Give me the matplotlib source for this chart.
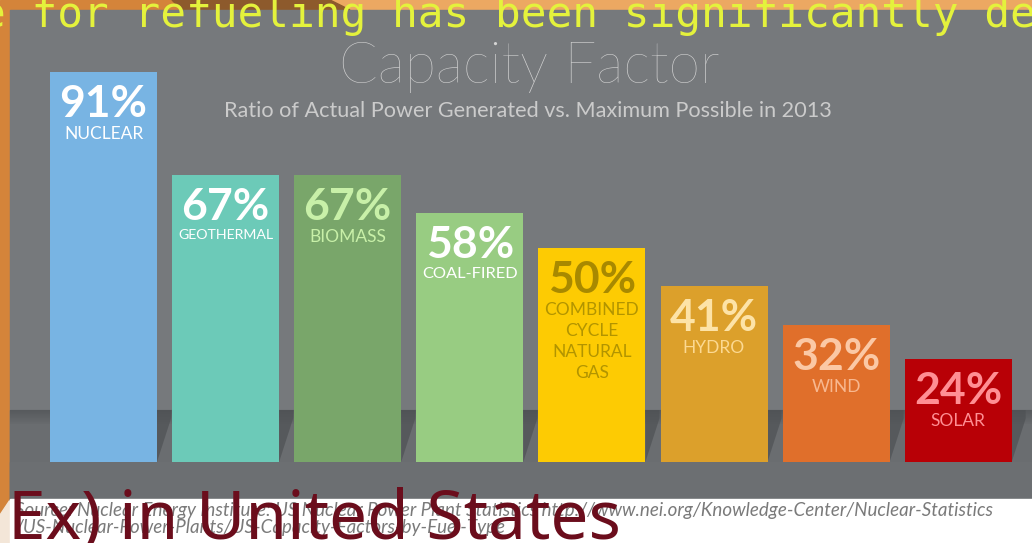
import matplotlib.pyplot as plt
from matplotlib.patches import Rectangle, Polygon
from matplotlib.font_manager import fontManager

# data
sources = ['NUCLEAR', 'GEOTHERMAL', 'BIOMASS', 'COAL-FIRED',
           'COMBINED\nCYCLE\nNATURAL\nGAS', 'HYDRO', 'WIND', 'SOLAR']
capacity = [91, 67, 67, 58, 50, 41, 32, 24]
bar_colors = ['#78b4e3', '#6ccab8', '#79a66a', '#98cc82',
              '#fdcb03', '#dca02b', '#e06f2b', '#b80006']
pct_colors = ['#ffffff', '#ffffff', '#c8f0a8', '#ffffff',
              '#a88900', '#fde3a7', '#fbc8a5', '#ff8f94']
name_colors = ['#ffffff', '#ffffff', '#c8f0a8', '#ffffff',
               '#b29400', '#fcd992', '#f8b890', '#ff8f94']

title = 'Capacity Factor'
subtitle = 'Ratio of Actual Power Generated vs. Maximum Possible in 2013'
source_lines = ['Source: Nuclear Energy Institute: US Nuclear Power Plant Statistics '
                'http://www.nei.org/Knowledge-Center/Nuclear-Statistics',
                '/US-Nuclear-Power-Plants/US-Capacity-Factors-by-Fuel-Type']
overlay_top = 'e for refueling has been significantly de'
overlay_bottom = 'Ex) in United States'

names = {f.name for f in fontManager.ttflist}
info_font = 'Lato' if 'Lato' in names else 'DejaVu Sans'

W, H = 1032, 543
fig = plt.figure(figsize=(W / 100, H / 100), dpi=100)

# background in pixel coordinates
bg = fig.add_axes([0, 0, 1, 1])
bg.set_xlim(0, W)
bg.set_ylim(H, 0)
bg.axis('off')
bg.add_patch(Rectangle((0, 0), W, H, color='#d4843a'))
bg.add_patch(Rectangle((330, 0), W - 330, 10, color='#eca862'))
bg.add_patch(Polygon([(172, 0), (330, 0), (350, 10), (182, 10)], color='#8d5a2c'))
bg.add_patch(Polygon([(0, 515), (10, 500), (10, 543), (0, 543)], color='#f3e6d8'))
bg.add_patch(Rectangle((10, 10), W - 10, 490, color='#76797c'))
bg.add_patch(Rectangle((10, 410), W - 10, 90, color='#6a6d70'))
for i in range(14):
    bg.add_patch(Rectangle((10, 410 + i), W - 10, 1, color='#55585b', alpha=0.9 - i * 0.06, lw=0))
bg.add_patch(Rectangle((10, 462), W - 10, 38, color='#6c6f72'))
bg.add_patch(Rectangle((10, 499), W - 10, 44, color='#ffffff'))

# bars, zero line at y=462 px, 4.286 px per percent
px_per_pct = 390 / 91
ax = fig.add_axes([0, (H - 462) / H, 1, 462 / H])
ax.patch.set_alpha(0)
ax.axis('off')
ax.set_xlim(-103.5 / 122.1, (W - 103.5) / 122.1)
ax.set_ylim(0, 462 / px_per_pct)
x = list(range(len(capacity)))
bw = 107 / 122.1
ax.bar(x, capacity, width=bw, color=bar_colors, zorder=3)

# bar shadows on the floor
floor = 52 / px_per_pct
dx = 14 / 122.1
for xi in x:
    r = xi + bw / 2
    ax.add_patch(Polygon([(r, 0), (r + dx, floor - 2), (r + dx, floor), (r, floor)],
                         color='#4e5154', alpha=0.7, zorder=2, lw=0))

pt = 0.72
name_texts = []
for xi, v, nm, pc, nc in zip(x, capacity, sources, pct_colors, name_colors):
    ax.annotate(f'{v}%', (xi, v), xytext=(0, -45 * pt), textcoords='offset points',
                ha='center', va='baseline', fontsize=32, fontweight='bold',
                color=pc, family=info_font, zorder=4)
    t = ax.annotate(nm, (xi, v), xytext=(0, -54 * pt), textcoords='offset points',
                    ha='center', va='top', fontsize=12.5, color=nc, family=info_font,
                    linespacing=1.38, zorder=4)
    name_texts.append(t)

# squeeze names that would run past the bar edges
rend = fig.canvas.get_renderer()
for t in name_texts:
    w = t.get_window_extent(rend).width
    if w > 96:
        t.set_fontsize(12.5 * 96 / w)

# titles
bg.text(529, 83, title, ha='center', va='baseline', fontsize=41, fontweight='light',
        color='#d4d4d4', family=info_font)
bg.text(528, 117, subtitle, ha='center', va='baseline', fontsize=15.6,
        color='#cbcbcb', family=info_font)

for k, line in enumerate(source_lines):
    bg.text(15, 516 + 17 * k, line, ha='left', va='baseline', fontsize=13.5,
            style='italic', color='#7a7a7a', family=info_font)

# overlay texts
bg.text(-20, 27, overlay_top, ha='left', va='baseline', fontsize=30.8,
        color='#e4f23c', family='DejaVu Sans Mono')
bg.text(8, 539, overlay_bottom, ha='left', va='baseline', fontsize=48.7,
        color='#6b0d1c', family='Noto Sans')

fig.savefig('out.png', dpi=100)
